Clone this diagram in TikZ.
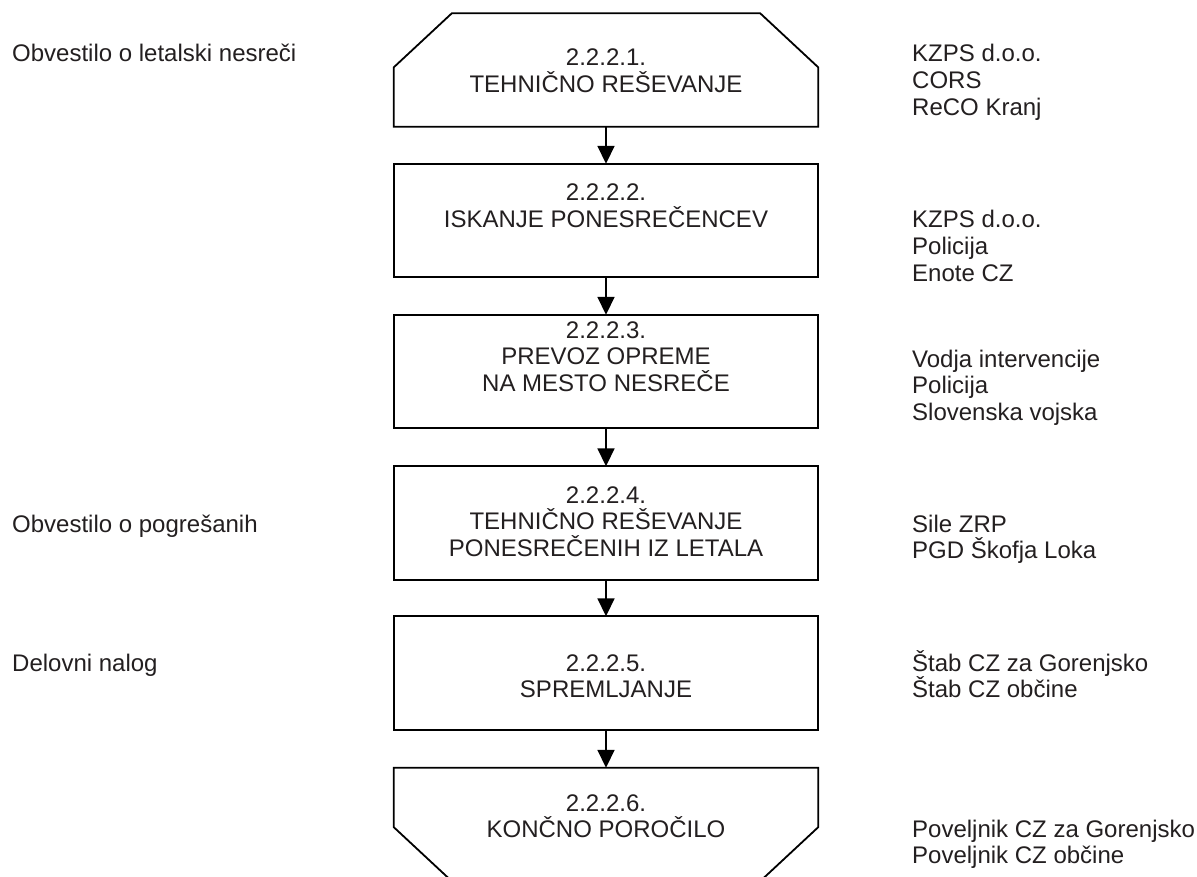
\documentclass[tikz,border=0pt]{standalone}
\usepackage{fontspec}
\setmainfont{Liberation Sans}
\usetikzlibrary{arrows.meta}
\definecolor{ink}{RGB}{35,31,32}
\newcommand\lstack[1]{\vtop{\baselineskip=26.6pt\lineskiplimit=-100pt\lineskip=0pt\halign{##\hfil\cr#1\crcr}}}
\newcommand\cstack[1]{\vtop{\baselineskip=26.6pt\lineskiplimit=-100pt\lineskip=0pt\halign{\hfil##\hfil\cr#1\crcr}}}
\tikzset{
  txt/.style={inner sep=0pt, text=ink, font=\fontsize{24}{26.6}\selectfont},
  side/.style={txt, anchor=base west},
  mid/.style={txt, anchor=base},
  frame/.style={draw=none, inner sep=0pt, minimum width=424pt, minimum height=113pt},
  boxdraw/.style={line width=1.8pt, draw=black, line join=miter},
  arr/.style={line width=1.8pt, -{Triangle[length=18pt,width=17pt]}}
}
\begin{document}
\begin{tikzpicture}[x=1pt, y=-1pt]
\useasboundingbox (0,0) rectangle (1197,877);
\clip (0,0) rectangle (1197,877);
\fill[white] (0,0) rectangle (1197,877);

% frames
\node[frame] (b1) at (606,70) {};
\node[frame] (b2) at (606,220.5) {};
\node[frame] (b3) at (606,371.5) {};
\node[frame] (b4) at (606,523) {};
\node[frame] (b5) at (606,673) {};
\node[frame] (b6) at (606,824.5) {};

\draw[boxdraw] (b1.south west) -- ([yshift=-54pt]b1.north west) -- ([xshift=58pt]b1.north west)
  -- ([xshift=-58pt]b1.north east) -- ([yshift=-54pt]b1.north east) -- (b1.south east) -- cycle;
\draw[boxdraw] (b2.south west) rectangle (b2.north east);
\draw[boxdraw] (b3.south west) rectangle (b3.north east);
\draw[boxdraw] (b4.south west) rectangle (b4.north east);
\draw[boxdraw] (b5.south west) rectangle (b5.north east);
\draw[boxdraw] (b6.north west) -- ([yshift=54pt]b6.south west) -- ([xshift=58pt]b6.south west)
  -- ([xshift=-58pt]b6.south east) -- ([yshift=54pt]b6.south east) -- (b6.north east) -- cycle;

% connectors
\draw[arr] (b1.south) -- (b2.north);
\draw[arr] (b2.south) -- (b3.north);
\draw[arr] (b3.south) -- (b4.north);
\draw[arr] (b4.south) -- (b5.north);
\draw[arr] (b5.south) -- (b6.north);

% box texts
\node[mid] (t1) at (606,66) {\cstack{2.2.2.1.\cr TEHNIČNO REŠEVANJE}};
\node[mid] (t2) at (606,201) {\cstack{2.2.2.2.\cr ISKANJE PONESREČENCEV}};
\node[mid] (t3) at (606,338) {\cstack{2.2.2.3.\cr PREVOZ OPREME\cr NA MESTO NESREČE}};
\node[mid] (t4) at (606,503) {\cstack{2.2.2.4.\cr TEHNIČNO REŠEVANJE\cr PONESREČENIH IZ LETALA}};
\node[mid] (t5) at (606,671) {\cstack{2.2.2.5.\cr SPREMLJANJE}};
\node[mid] (t6) at (606,811) {\cstack{2.2.2.6.\cr KONČNO POROČILO}};

% left texts
\node[side] (l1) at (12,62) {Obvestilo o letalski nesreči};
\node[side] (l4) at (12,532) {Obvestilo o pogrešanih};
\node[side] (l5) at (12,671) {Delovni nalog};

% right texts
\node[side] (r1) at (912,62) {\lstack{KZPS d.o.o.\cr CORS\cr ReCO Kranj}};
\node[side] (r2) at (912,228) {\lstack{KZPS d.o.o.\cr Policija\cr Enote CZ}};
\node[side] (r3) at (912,367) {\lstack{Vodja intervencije\cr Policija\cr Slovenska vojska}};
\node[side] (r4) at (912,532) {\lstack{Sile ZRP\cr PGD Škofja Loka}};
\node[side] (r5) at (912,671) {\lstack{Štab CZ za Gorenjsko\cr Štab CZ občine}};
\node[side] (r6) at (912,837) {\lstack{Poveljnik CZ za Gorenjsko\cr Poveljnik CZ občine}};
\end{tikzpicture}
\end{document}
